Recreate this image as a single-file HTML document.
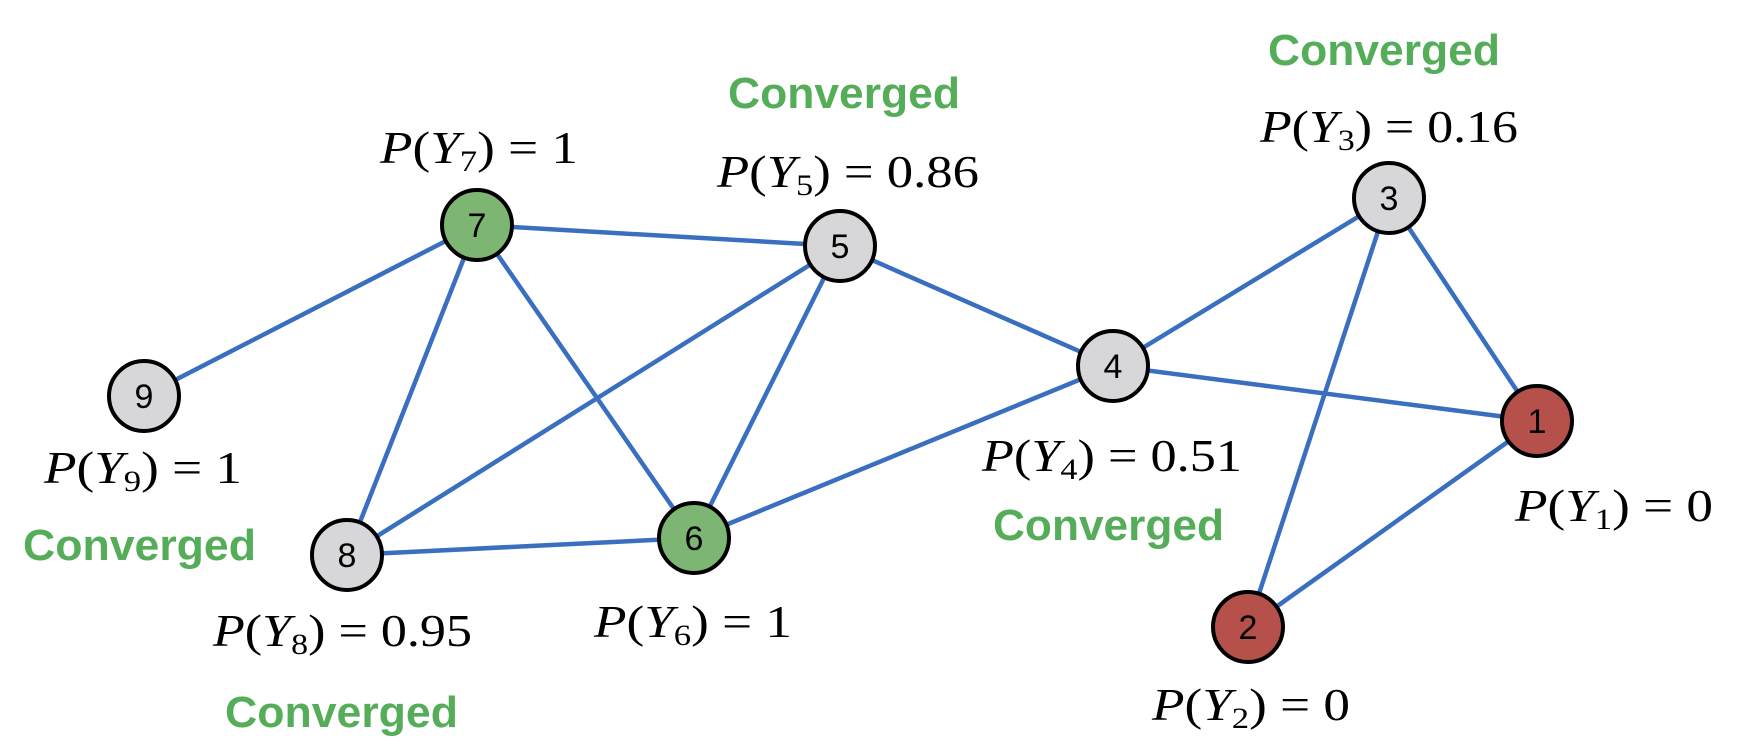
<!DOCTYPE html>
<html><head><meta charset="utf-8"><style>html,body{margin:0;padding:0;background:#fff}svg{display:block}</style></head>
<body>
<svg width="1742" height="750" viewBox="0 0 1742 750" xmlns="http://www.w3.org/2000/svg">
<g stroke="#3a6fc0" stroke-width="4.5" fill="none">
<line x1="477" y1="225" x2="840" y2="246"/>
<line x1="477" y1="225" x2="144" y2="396"/>
<line x1="477" y1="225" x2="347" y2="555"/>
<line x1="477" y1="225" x2="694" y2="538"/>
<line x1="840" y1="246" x2="347" y2="555"/>
<line x1="840" y1="246" x2="694" y2="538"/>
<line x1="840" y1="246" x2="1113" y2="366"/>
<line x1="1113" y1="366" x2="694" y2="538"/>
<line x1="1113" y1="366" x2="1389" y2="198"/>
<line x1="1113" y1="366" x2="1537" y2="421"/>
<line x1="1389" y1="198" x2="1537" y2="421"/>
<line x1="1389" y1="198" x2="1248" y2="627"/>
<line x1="1537" y1="421" x2="1248" y2="627"/>
<line x1="347" y1="555" x2="694" y2="538"/>
</g>
<g stroke="#000" stroke-width="4">
<circle cx="477" cy="225" r="35" fill="#7db672"/>
<circle cx="840" cy="246" r="35" fill="#d7d7d9"/>
<circle cx="144" cy="396" r="35" fill="#d7d7d9"/>
<circle cx="347" cy="555" r="35" fill="#d7d7d9"/>
<circle cx="694" cy="538" r="35" fill="#7db672"/>
<circle cx="1113" cy="366" r="35" fill="#d7d7d9"/>
<circle cx="1389" cy="198" r="35" fill="#d7d7d9"/>
<circle cx="1537" cy="421" r="35" fill="#b5504b"/>
<circle cx="1248" cy="627" r="35" fill="#b5504b"/>
</g>
<g font-family="Liberation Sans, sans-serif" font-size="34" text-anchor="middle" fill="#000">
<text x="477" y="237">7</text><text x="840" y="258">5</text><text x="144" y="408">9</text>
<text x="347" y="567">8</text><text x="694" y="550">6</text><text x="1113" y="378">4</text>
<text x="1389" y="210">3</text><text x="1537" y="433">1</text><text x="1248" y="639">2</text>
</g>
<g font-family="Liberation Serif, serif" font-size="46" fill="#000">
<text x="380" y="163" textLength="198" lengthAdjust="spacingAndGlyphs"><tspan font-style="italic">P</tspan>(<tspan font-style="italic">Y</tspan><tspan font-size="30" dy="8">7</tspan><tspan dy="-8">) = 1</tspan></text>
<text x="717" y="187" textLength="262" lengthAdjust="spacingAndGlyphs"><tspan font-style="italic">P</tspan>(<tspan font-style="italic">Y</tspan><tspan font-size="30" dy="8">5</tspan><tspan dy="-8">) = 0.86</tspan></text>
<text x="44" y="483" textLength="198" lengthAdjust="spacingAndGlyphs"><tspan font-style="italic">P</tspan>(<tspan font-style="italic">Y</tspan><tspan font-size="30" dy="8">9</tspan><tspan dy="-8">) = 1</tspan></text>
<text x="213" y="646" textLength="259" lengthAdjust="spacingAndGlyphs"><tspan font-style="italic">P</tspan>(<tspan font-style="italic">Y</tspan><tspan font-size="30" dy="8">8</tspan><tspan dy="-8">) = 0.95</tspan></text>
<text x="594" y="637" textLength="198" lengthAdjust="spacingAndGlyphs"><tspan font-style="italic">P</tspan>(<tspan font-style="italic">Y</tspan><tspan font-size="30" dy="8">6</tspan><tspan dy="-8">) = 1</tspan></text>
<text x="1260" y="142" textLength="258" lengthAdjust="spacingAndGlyphs"><tspan font-style="italic">P</tspan>(<tspan font-style="italic">Y</tspan><tspan font-size="30" dy="8">3</tspan><tspan dy="-8">) = 0.16</tspan></text>
<text x="982" y="471" textLength="260" lengthAdjust="spacingAndGlyphs"><tspan font-style="italic">P</tspan>(<tspan font-style="italic">Y</tspan><tspan font-size="30" dy="8">4</tspan><tspan dy="-8">) = 0.51</tspan></text>
<text x="1515" y="521" textLength="198" lengthAdjust="spacingAndGlyphs"><tspan font-style="italic">P</tspan>(<tspan font-style="italic">Y</tspan><tspan font-size="30" dy="8">1</tspan><tspan dy="-8">) = 0</tspan></text>
<text x="1152" y="720" textLength="198" lengthAdjust="spacingAndGlyphs"><tspan font-style="italic">P</tspan>(<tspan font-style="italic">Y</tspan><tspan font-size="30" dy="8">2</tspan><tspan dy="-8">) = 0</tspan></text>
</g>
<g font-family="Liberation Sans, sans-serif" font-size="44" font-weight="bold" fill="#55ad5a">
<text x="728" y="108" textLength="232" lengthAdjust="spacingAndGlyphs">Converged</text>
<text x="1268" y="65" textLength="232" lengthAdjust="spacingAndGlyphs">Converged</text>
<text x="23" y="560" textLength="233" lengthAdjust="spacingAndGlyphs">Converged</text>
<text x="225" y="727" textLength="233" lengthAdjust="spacingAndGlyphs">Converged</text>
<text x="993" y="540" textLength="231" lengthAdjust="spacingAndGlyphs">Converged</text>
</g>
</svg>
</body></html>
